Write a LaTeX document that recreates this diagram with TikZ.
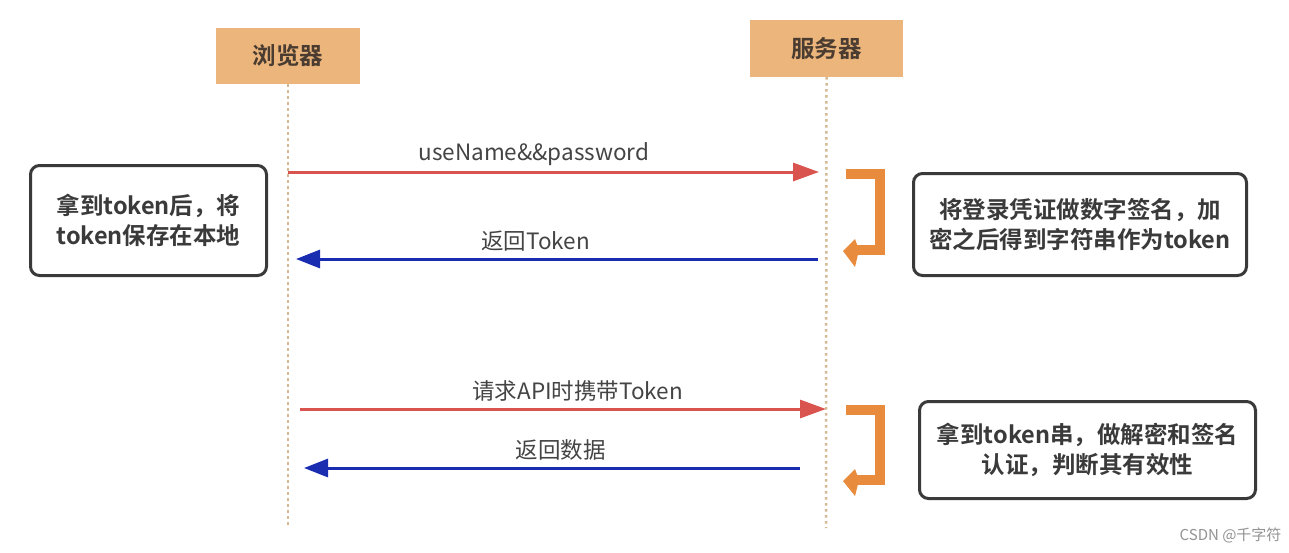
\documentclass[tikz,border=0pt]{standalone}
\usepackage{fontspec}
\setmainfont{Noto Sans CJK SC}
\newfontfamily\cjkb{Noto Sans CJK SC Bold}
\usetikzlibrary{arrows.meta}
\definecolor{actfill}{HTML}{EBB57C}
\definecolor{acttext}{HTML}{4A3C30}
\definecolor{lifec}{HTML}{D4B994}
\definecolor{reqred}{HTML}{D9544E}
\definecolor{resblue}{HTML}{1A2DB0}
\definecolor{hookc}{HTML}{E98B3C}
\definecolor{boxline}{HTML}{3A3A3A}
\definecolor{labtext}{HTML}{444444}
\tikzset{
  actor/.style={fill=actfill, draw=none, minimum width=144pt, minimum height=56pt, font=\cjkb\fontsize{23.5}{26}\selectfont, text=acttext},
  lifeline/.style={draw=lifec, line width=2.5pt, dash pattern=on 2.5pt off 3.5pt},
  note/.style={draw=boxline, line width=3pt, rounded corners=9pt, fill=white, align=center, font=\cjkb\fontsize{23.5}{29.5}\selectfont, text=boxline},
  req/.style={draw=reqred, line width=3pt, -{Triangle[length=26pt,width=18pt]}},
  res/.style={draw=resblue, line width=3pt, -{Triangle[length=24pt,width=18pt]}},
  lab/.style={font=\fontsize{22.5}{26}\selectfont, text=labtext, yshift=18pt},
  hook/.style={draw=hookc, line width=10pt},
  hooktip/.style={fill=hookc, draw=none}
}
\begin{document}
\begin{tikzpicture}[x=1pt,y=-1pt]
\useasboundingbox (0,0) rectangle (1289,552);
\fill[white] (0,0) rectangle (1289,552);
% actors
\node[actor] (br) at (288,56) {浏览器};
\node[actor, minimum width=153pt, minimum height=57pt] (sv) at (826.5,48.5) {服务器};
\coordinate (brend) at (288,528);
\coordinate (svend) at (826,528);
\draw[lifeline] (br.south) -- (brend);
\draw[lifeline] (sv.south) -- (svend);
% coordinates for messages
\coordinate (a1s) at (288,172); \coordinate (a1e) at (819,172);
\coordinate (a2s) at (818,259); \coordinate (a2e) at (296,259);
\coordinate (a3s) at (300,409); \coordinate (a3e) at (826,409);
\coordinate (a4s) at (800,468); \coordinate (a4e) at (304,468);
\draw[req] (a1s) -- node[lab, pos=0.463] (l1) {useName\&\&password} (a1e);
\draw[res] (a2s) -- node[lab, pos=0.541] (l2) {返回Token} (a2e);
\draw[req] (a3s) -- node[lab, pos=0.528] (l3) {请求API时携带Token} (a3e);
\draw[res] (a4s) -- node[lab, pos=0.482] (l4) {返回数据} (a4e);
% notes
\node[note, minimum width=236pt, minimum height=110pt] (n1) at (148.5,220.5) {拿到token后，将\\token保存在本地};
\node[note, minimum width=333pt, minimum height=102pt] (n2) at (1080,224.5) {将登录凭证做数字签名，加\\密之后得到字符串作为token};
\node[note, minimum width=336pt, minimum height=97pt] (n3) at (1087.5,450) {拿到token串，做解密和签名\\认证，判断其有效性};
% hooks
\draw[hook] (846,174) -- (880,174) -- (880,250) -- (854,250);
\fill[hooktip] (843,251) -- (855,239) -- (859,250) -- (855,267) -- cycle;
\draw[hook] (846,410) -- (880,410) -- (880,480) -- (854,480);
\fill[hooktip] (843,481) -- (855,469) -- (859,480) -- (855,496) -- cycle;
% watermark
\node[font=\fontsize{15}{18}\selectfont, text=gray!85, anchor=east] (wm) at (1285,535) {CSDN @千字符};
\end{tikzpicture}
\end{document}
